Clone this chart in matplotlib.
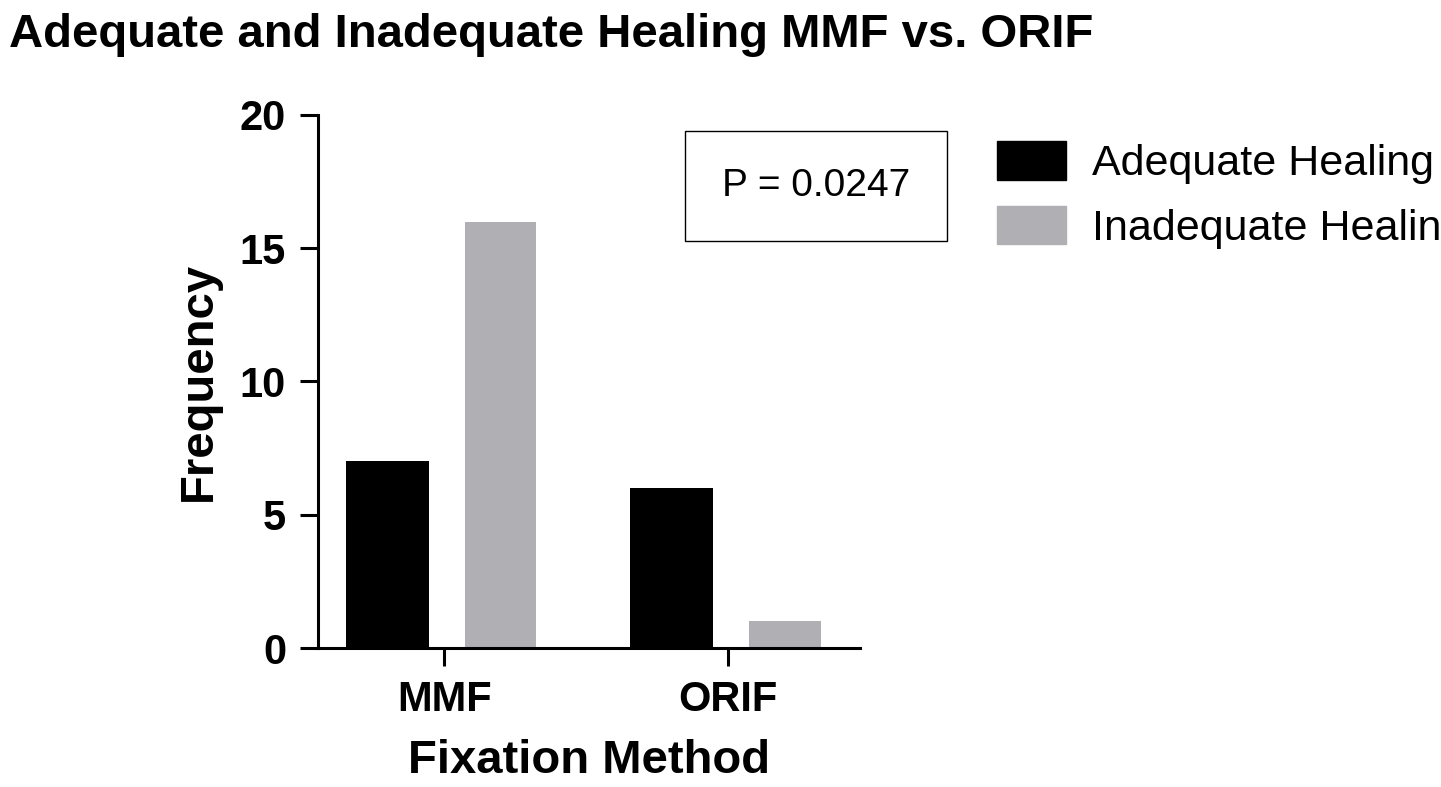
import numpy as np
import matplotlib
matplotlib.use('Agg')
import matplotlib.pyplot as plt
from matplotlib.patches import Patch

categories = ['MMF', 'ORIF']
adequate = [7, 6]
inadequate = [16, 1]
p_text = 'P = 0.0247'

plt.rcParams['font.family'] = 'Liberation Sans'
fig = plt.figure(figsize=(14.41, 7.87), dpi=100)
ax = fig.add_axes([0.2207, 0.1766, 0.3763, 0.6773])
x = np.arange(len(categories))
ax.bar(x - 0.2, adequate, width=0.29, color='black')
ax.bar(x + 0.2, inadequate, width=0.25, color='#b0afb4')
ax.set_xlim(-0.444, 1.465)
ax.set_ylim(0, 20)
ax.set_yticks([0, 5, 10, 15, 20])
ax.set_xticks(x, categories)
for s in ['top', 'right']:
    ax.spines[s].set_visible(False)
for s in ['left', 'bottom']:
    ax.spines[s].set_linewidth(2.2)
ax.tick_params(width=2.2, length=13, labelsize=30, pad=10)
for lab in ax.get_xticklabels() + ax.get_yticklabels():
    lab.set_fontweight('bold')
ax.set_ylabel('Frequency', fontsize=34, fontweight='bold', labelpad=14)
ax.set_xlabel('Fixation Method', fontsize=34, fontweight='bold', labelpad=14)

fig.text(0.006, 0.955, 'Adequate and Inadequate Healing MMF vs. ORIF',
         fontsize=34, fontweight='bold', va='center')
fig.text(0.5662, 0.7637, p_text, fontsize=28, ha='center', va='center',
         bbox=dict(boxstyle='square,pad=0.95', fc='white', ec='black', lw=1))
fig.legend(handles=[Patch(color='black', label='Adequate Healing'),
                    Patch(color='#b0afb4', label='Inadequate Healing')],
           loc='upper left', bbox_to_anchor=(0.665, 0.87), frameon=False,
           fontsize=31, handlelength=1.6, handleheight=1.0, labelspacing=0.5,
           handletextpad=0.6)
fig.savefig('out.png', dpi=100)
